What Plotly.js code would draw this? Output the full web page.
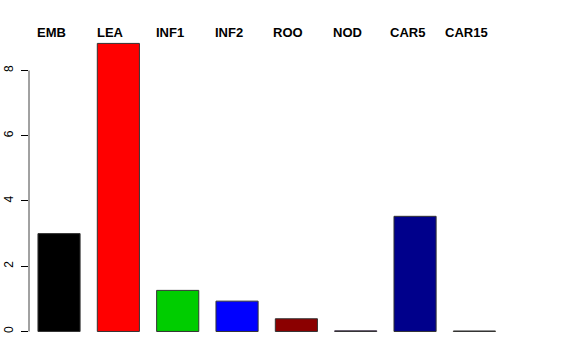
<!DOCTYPE html>
<html>
<head>
<meta charset="utf-8">
<script src="https://cdn.plot.ly/plotly-3.0.1.min.js"></script>
<style>html,body{margin:0;padding:0;background:#fff;}#chart{width:576px;height:360px;}</style>
</head>
<body>
<div id="chart"></div>
<script>
const categories = ["EMB", "LEA", "INF1", "INF2", "ROO", "NOD", "CAR5", "CAR15"];
const values = [3.0, 8.83, 1.26, 0.93, 0.39, 0.02, 3.53, 0.015];
const barColors = ["#000000", "#FF0000", "#00CD00", "#0000FF", "#8B0000", "#A020F0", "#00008B", "#FFA500"];
const yTicks = [0, 2, 4, 6, 8];

const trace = {
  type: "bar",
  x: categories,
  y: values,
  marker: {color: barColors, line: {color: "#333333", width: 1}},
  width: 0.71,
  hoverinfo: "x+y"
};

const annotations = categories.map((c) => ({
  x: c, xref: "x", y: 1.0, yref: "paper", yanchor: "middle", xanchor: "center",
  xshift: -8, yshift: 0,
  text: "<b>" + c + "</b>", showarrow: false,
  font: {family: "Liberation Sans, Arial, sans-serif", size: 13, color: "#000"}
}));

const layout = {
  width: 576, height: 360,
  margin: {l: 29, r: 66, t: 32, b: 17},
  paper_bgcolor: "#fff", plot_bgcolor: "#fff",
  showlegend: false,
  xaxis: {
    type: "category", range: [-0.506, 7.6],
    showticklabels: false, showgrid: false, zeroline: false, showline: false, ticks: ""
  },
  yaxis: {
    range: [-0.353, 9.18], tickvals: yTicks, ticktext: yTicks.map(String),
    ticks: "outside", ticklen: 7, tickwidth: 1, tickcolor: "#000",
    tickangle: -90, ticklabelstandoff: 3,
    showgrid: false, zeroline: false, showline: false,
    tickfont: {family: "Liberation Sans, Arial, sans-serif", size: 12, color: "#000"}
  },
  shapes: [{type: "line", xref: "paper", x0: 0, x1: 0, yref: "y", y0: yTicks[0], y1: yTicks[yTicks.length - 1], line: {color: "#444", width: 1}}],
  annotations: annotations
};

Plotly.newPlot("chart", [trace], layout, {displayModeBar: false, staticPlot: true});
</script>
</body>
</html>
